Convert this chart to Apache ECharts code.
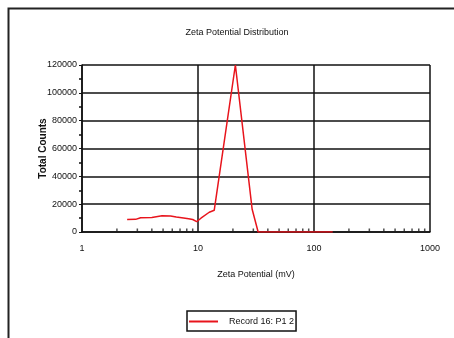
<!DOCTYPE html>
<html><head><meta charset="utf-8">
<script src="https://cdn.jsdelivr.net/npm/echarts@6/dist/echarts.min.js"></script>
<style>html,body{margin:0;padding:0;background:#fff}#c{width:454px;height:338px}</style>
</head><body><div id="c"></div>
<script>
var zetaMv = [2.45, 2.9, 3.2, 4.0, 4.9, 5.8, 6.5, 7.5, 8.3, 9.0, 9.75, 10.6, 12.5, 13.8, 21, 29.3, 33, 40, 50, 60, 80, 100, 120, 145];
var counts = [9000, 9100, 10300, 10500, 11600, 11500, 10700, 10000, 9500, 9000, 7500, 9900, 14200, 15600, 120000, 16300, 0, 0, 0, 0, 0, 0, 0, 0];
var xMinorTicks = [2,3,4,5,6,7,8,9,20,30,40,50,60,70,80,90,200,300,400,500,600,700,800,900];
var yTicks = [0, 20000, 40000, 60000, 80000, 100000, 120000];
var seriesName = 'Record 16: P1 2';
var titleText = 'Zeta Potential Distribution';
var xName = 'Zeta Potential (mV)';
var yName = 'Total Counts';

var FONT = '"Liberation Sans Narrow", "Liberation Sans", Arial, sans-serif';
var chart = echarts.init(document.getElementById('c'), null, {renderer: 'canvas'});
chart.setOption({
  animation: false,
  backgroundColor: '#fff',
  title: {
    text: titleText, left: 232, top: 23, textAlign: 'center',
    textStyle: {fontFamily: FONT, fontSize: 9, fontWeight: 'normal', color: '#111'}
  },
  graphic: [{
    type: 'rect', left: 6, top: 6, silent: true,
    shape: {width: 470, height: 360},
    style: {fill: 'none', stroke: '#222', lineWidth: 2}
  }],
  grid: {left: 82, top: 65, right: 24, bottom: 106},
  xAxis: {
    type: 'log', logBase: 10, min: 1, max: 1000,
    name: xName, nameLocation: 'middle', nameGap: 38,
    nameTextStyle: {fontFamily: FONT, fontSize: 9, color: '#111'},
    axisLine: {lineStyle: {color: '#111', width: 1.5}},
    axisTick: {show: false},
    axisLabel: {fontFamily: FONT, fontSize: 9, color: '#111', margin: 12,
      formatter: function (v) { return String(Math.round(v)); }},
    splitLine: {show: true, lineStyle: {color: '#111', width: 1.5}}
  },
  yAxis: {
    type: 'value', min: 0, max: 120000, interval: 20000,
    name: yName, nameLocation: 'middle', nameGap: 34, nameRotate: 90, nameMoveOverlap: false,
    nameTextStyle: {fontFamily: 'Liberation Sans, Arial, sans-serif', fontSize: 10, fontWeight: 'bold', color: '#111'},
    axisLine: {show: true, lineStyle: {color: '#111', width: 1.5}},
    axisTick: {show: true, length: 3, lineStyle: {color: '#111'}},
    minorTick: {show: true, splitNumber: 2, length: 3, lineStyle: {color: '#111', width: 1.5}},
    axisLabel: {fontFamily: FONT, fontSize: 9, color: '#111', margin: 5,
      formatter: function (v) { return String(v); }},
    splitLine: {show: true, lineStyle: {color: '#111', width: 1.5}}
  },
  legend: {
    data: [{name: seriesName, icon: 'rect'}], left: 187, top: 311,
    orient: 'horizontal',
    padding: [6, 2, 5, 2],
    itemWidth: 29, itemHeight: 2,
    borderColor: '#111', borderWidth: 1.5, borderRadius: 0,
    textStyle: {fontFamily: FONT, fontSize: 9, color: '#111', padding: [0, 0, 0, 6]}
  },
  series: [
    {
      name: seriesName, type: 'line', symbol: 'none',
      data: zetaMv.map(function (v, i) { return [v, counts[i]]; }),
      lineStyle: {color: '#e8141c', width: 1.5}, itemStyle: {color: '#e8141c'},
      z: 5
    },
    {
      name: 'minorTicks', type: 'scatter', silent: true,
      data: xMinorTicks.map(function (v) { return [v, 0]; }),
      symbol: 'rect', symbolSize: [1.5, 3], symbolOffset: [0, -2],
      itemStyle: {color: '#222'}, z: 3
    }
  ]
});
</script></body></html>
